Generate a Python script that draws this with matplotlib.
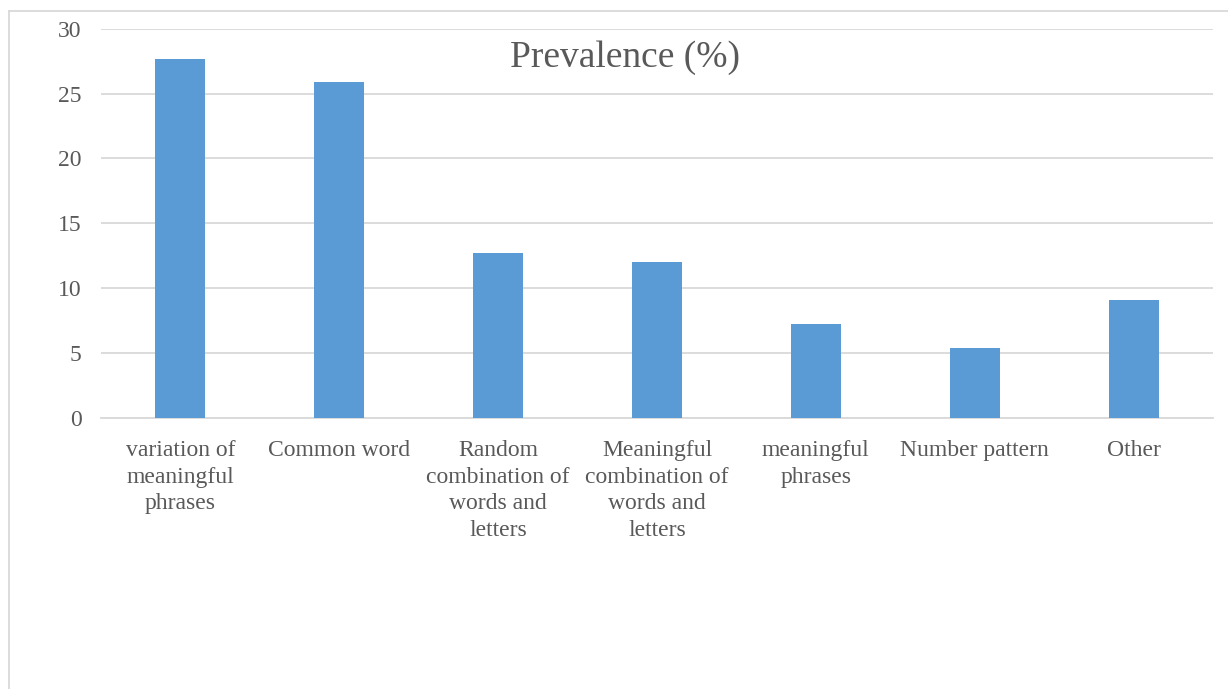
import matplotlib.pyplot as plt
from matplotlib.lines import Line2D

categories = [
    "variation of\nmeaningful\nphrases",
    "Common word",
    "Random\ncombination of\nwords and\nletters",
    "Meaningful\ncombination of\nwords and\nletters",
    "meaningful\nphrases",
    "Number pattern",
    "Other",
]
prevalence = [27.7, 25.9, 12.7, 12.0, 7.2, 5.4, 9.1]
y_ticks = [0, 5, 10, 15, 20, 25, 30]

W, H = 1228, 689
plt.rcParams["font.family"] = ["Liberation Serif", "DejaVu Serif"]
text_color = "#595959"
grid_color = "#D9D9D9"

fig = plt.figure(figsize=(W / 100, H / 100), dpi=100)
ax = fig.add_axes([101 / W, 1 - 417.7 / H, (1213 - 101) / W, (417.7 - 28.7) / H])

x = range(len(categories))
ax.bar(x, prevalence, width=0.315, color="#5B9BD5", zorder=3)

ax.set_xlim(-0.5, len(categories) - 0.5)
ax.set_ylim(0, 30)
ax.set_yticks(y_ticks)
ax.set_yticklabels([str(v) for v in y_ticks])
ax.set_xticks(list(x))
ax.set_xticklabels(categories, linespacing=1.35)
ax.tick_params(axis="y", length=0, pad=14, labelsize=17, labelcolor=text_color)
ax.tick_params(axis="x", length=0, pad=16, labelsize=17, labelcolor=text_color)
ax.yaxis.grid(True, color=grid_color, linewidth=1.3, zorder=0)
for side in ["left", "right", "top"]:
    ax.spines[side].set_visible(False)
ax.spines["bottom"].set_color(grid_color)
ax.spines["bottom"].set_linewidth(1.3)

fig.text(625 / W, 1 - 58 / H, "Prevalence (%)", ha="center", va="center",
         fontsize=27, color=text_color)

# chart frame (only left and top edges fall inside the canvas)
fig.add_artist(Line2D([8.5 / W, 8.5 / W], [0, 1 - 11 / H], color=grid_color, lw=1.3))
fig.add_artist(Line2D([8.5 / W, 1], [1 - 11 / H, 1 - 11 / H], color=grid_color, lw=1.3))

fig.savefig("out.png", dpi=100)
